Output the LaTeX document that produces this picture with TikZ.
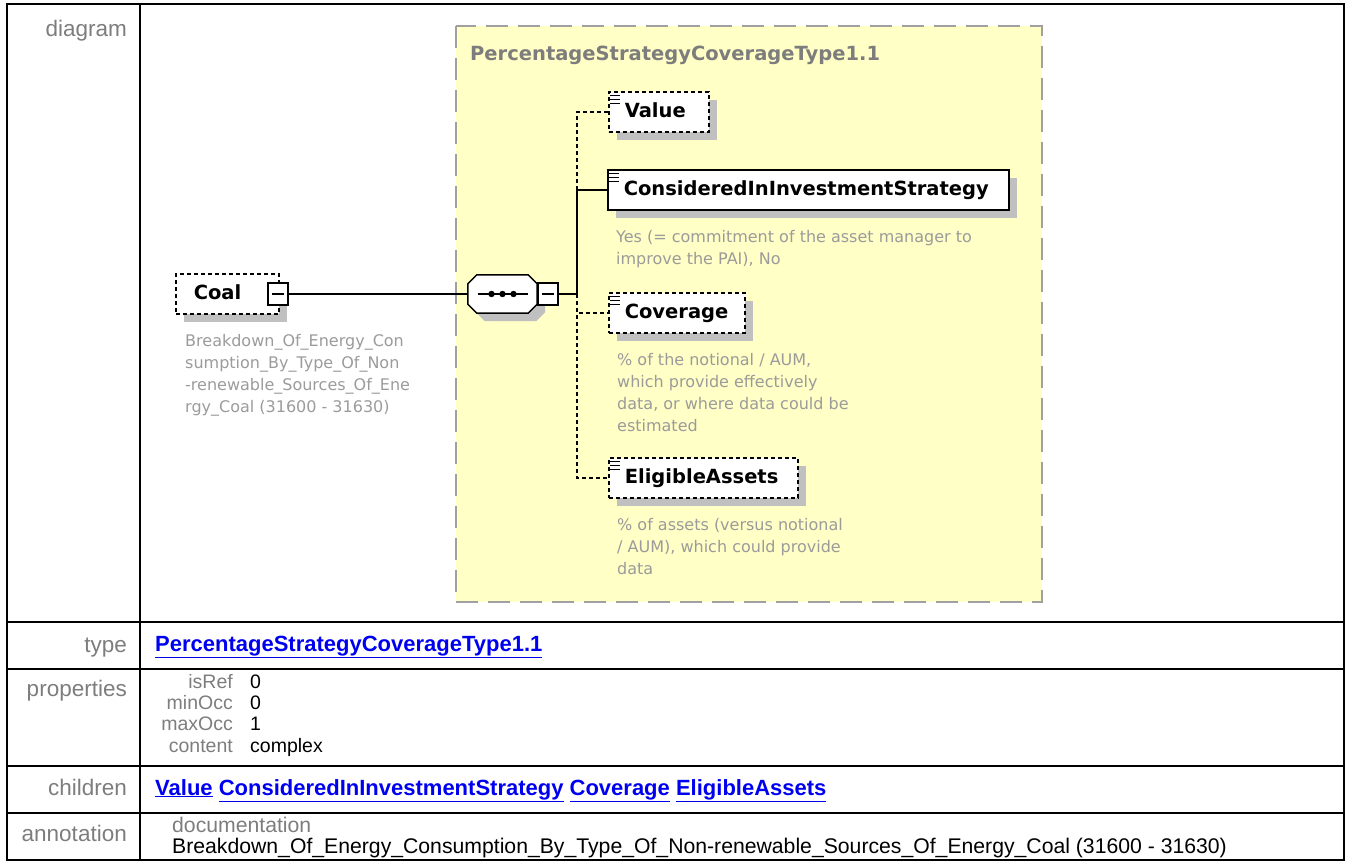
\documentclass[tikz,border=0pt]{standalone}
\usepackage{fontspec}
\setmainfont{Liberation Sans}
\newfontfamily\diafont{DejaVu Sans}
\usetikzlibrary{shadows}

\definecolor{boxyellow}{RGB}{255,255,198}
\definecolor{framegray}{RGB}{160,160,160}
\definecolor{shadegray}{RGB}{192,192,192}
\definecolor{docgray}{RGB}{155,155,155}
\definecolor{labelgray}{RGB}{125,125,125}
\definecolor{linkblue}{RGB}{0,0,240}

\newcommand{\namefont}{\diafont\bfseries\fontsize{19.5}{23}\selectfont}
\newcommand{\notefont}{\diafont\fontsize{16}{22}\selectfont}
\newcommand{\rowfont}{\fontsize{22.5}{26}\selectfont}
\newcommand{\linkfont}{\bfseries\fontsize{22}{26}\selectfont}
\newcommand{\propfont}{\fontsize{19.5}{23}\selectfont}
\newcommand{\docfont}{\fontsize{21.2}{25}\selectfont}
\newcommand{\txticon}[1]{\foreach \k in {0,1,2}{\draw[line width=1.3pt] ([shift={(2,4+4*\k)}]#1.north west) -- ++(10,0);}}

\tikzset{
  rule/.style={line width=2.4pt},
  typebox/.style={fill=boxyellow, draw=framegray, line width=2pt, dash pattern=on 22pt off 10pt},
  boxshadow/.style={drop shadow={shadow xshift=8pt, shadow yshift=-8pt, fill=shadegray, opacity=1}},
  elem/.style={draw, fill=white, line width=1.5pt, anchor=west, minimum height=40pt,
    inner xsep=16pt, inner ysep=0pt, align=left, font=\namefont, text height=14pt, text depth=4pt, boxshadow},
  optelem/.style={elem, dash pattern=on 4pt off 3pt},
  btn/.style={draw, fill=white, line width=1.5pt, minimum width=20pt, minimum height=22pt, inner sep=0pt,
    path picture={\draw[line width=1.2pt] ([xshift=4pt]path picture bounding box.west) -- ([xshift=-4pt]path picture bounding box.east);}},
  seqshape/.style={draw, fill=white, line width=1.5pt, boxshadow},
  wire/.style={line width=1.5pt},
  optwire/.style={wire, dash pattern=on 4pt off 3pt},
  note/.style={anchor=north west, inner sep=0pt, align=left, font=\notefont, text=docgray},
  rowlabel/.style={anchor=base east, inner sep=0pt, font=\rowfont, text=labelgray},
  link/.style={anchor=base west, inner sep=0pt, font=\linkfont, text=linkblue},
  propkey/.style={anchor=base east, inner sep=0pt, font=\propfont, text=labelgray},
  propval/.style={anchor=base west, inner sep=0pt, font=\propfont}
}

\begin{document}
\begin{tikzpicture}[x=1pt,y=-1pt]
  \useasboundingbox (0,0) rectangle (1346,863);

  % table
  \draw[rule] (7,4) rectangle (1344,860);
  \draw[rule] (140,4) -- (140,860);
  \foreach \y in {622,669,766,813} \draw[rule] (7,\y) -- (1344,\y);

  % diagram
  \draw[typebox] (456,26) rectangle (1042,602);
  \node[anchor=west, inner sep=0pt, font=\namefont, text=labelgray] (title) at (470,55) {PercentageStrategyCoverageType1.1};

  \node[optelem, text width=67pt, inner xsep=18pt] (coal) at (175,294) {Coal};
  \node[btn] (coalbtn) at (278,294) {};
  \node[note] (coalnote) at ([shift={(10,19)}]coal.south west) {Breakdown\_Of\_Energy\_Con\\sumption\_By\_Type\_Of\_Non\\-renewable\_Sources\_Of\_Ene\\rgy\_Coal (31600 - 31630)};

  \node[minimum width=69pt, minimum height=38pt, inner sep=0pt] (seq) at (502.5,294) {};
  \draw[seqshape] ([xshift=9pt]seq.north west) -- ([xshift=-9pt]seq.north east) -- ([yshift=-9pt]seq.north east)
    -- ([yshift=9pt]seq.south east) -- ([xshift=-9pt]seq.south east) -- ([xshift=9pt]seq.south west)
    -- ([yshift=9pt]seq.south west) -- ([yshift=-9pt]seq.north west) -- cycle;
  \draw[wire] ([xshift=-25pt]seq.center) -- ([xshift=25pt]seq.center);
  \foreach \dx in {-11,0,11} \fill ([xshift=\dx pt]seq.center) circle (3.2pt);
  \node[btn] (seqbtn) at (548,294) {};
  \coordinate (bus) at (577,294);

  \node[optelem, text width=68pt] (value) at (608,112) {Value};
  \node[elem, text width=369pt] (cis) at (607,190) {ConsideredInInvestmentStrategy};
  \node[optelem, text width=104pt] (cov) at (608,313) {Coverage};
  \node[optelem, text width=157pt] (ea) at (608,478) {EligibleAssets};
  \foreach \n in {value,cis,cov,ea} \txticon{\n};

  \node[note] (cisnote) at ([shift={(9,19)}]cis.south west) {Yes (= commitment of the asset manager to\\improve the PAI), No};
  \node[note] (covnote) at ([shift={(9,19)}]cov.south west) {\% of the notional / AUM,\\which provide effectively\\data, or where data could be\\estimated};
  \node[note] (eanote) at ([shift={(9,19)}]ea.south west) {\% of assets (versus notional\\/ AUM), which could provide\\data};

  \draw[wire] (coalbtn.east) -- (seq.west);
  \draw[wire] (seqbtn.east) -- (bus);
  \draw[wire] (bus) |- (cis.west);
  \draw[optwire] (cis.west -| bus) |- (value.west);
  \draw[optwire] (bus) |- (cov.west);
  \draw[optwire] (bus) |- (ea.west);

  % rows
  \node[rowlabel] (lbldia) at (127,36) {diagram};
  \node[rowlabel] (lbltype) at (127,652) {type};
  \node[rowlabel] (lblprop) at (127,696) {properties};
  \node[rowlabel] (lblchild) at (127,795) {children};
  \node[rowlabel] (lblann) at (127,841) {annotation};

  \node[link] (typelink) at (155,651) {\underline{PercentageStrategyCoverageType1.1}};
  \foreach \k/\v [count=\i] in {isRef/0, minOcc/0, maxOcc/1, content/complex}{
    \node[propkey] (pk\i) at (233,667+21.3*\i) {\k};
    \node[propval] (pv\i) at (250,667+21.3*\i) {\v};
  }
  \node[link] (childlinks) at (155,795) {\underline{Value} \underline{ConsideredInInvestmentStrategy} \underline{Coverage} \underline{EligibleAssets}};
  \node[propkey, anchor=base west, font=\docfont] (dockey) at (172,832) {documentation};
  \node[propval, font=\docfont] (docval) at (172,853) {Breakdown\_Of\_Energy\_Consumption\_By\_Type\_Of\_Non-renewable\_Sources\_Of\_Energy\_Coal (31600 - 31630)};
\end{tikzpicture}
\end{document}
